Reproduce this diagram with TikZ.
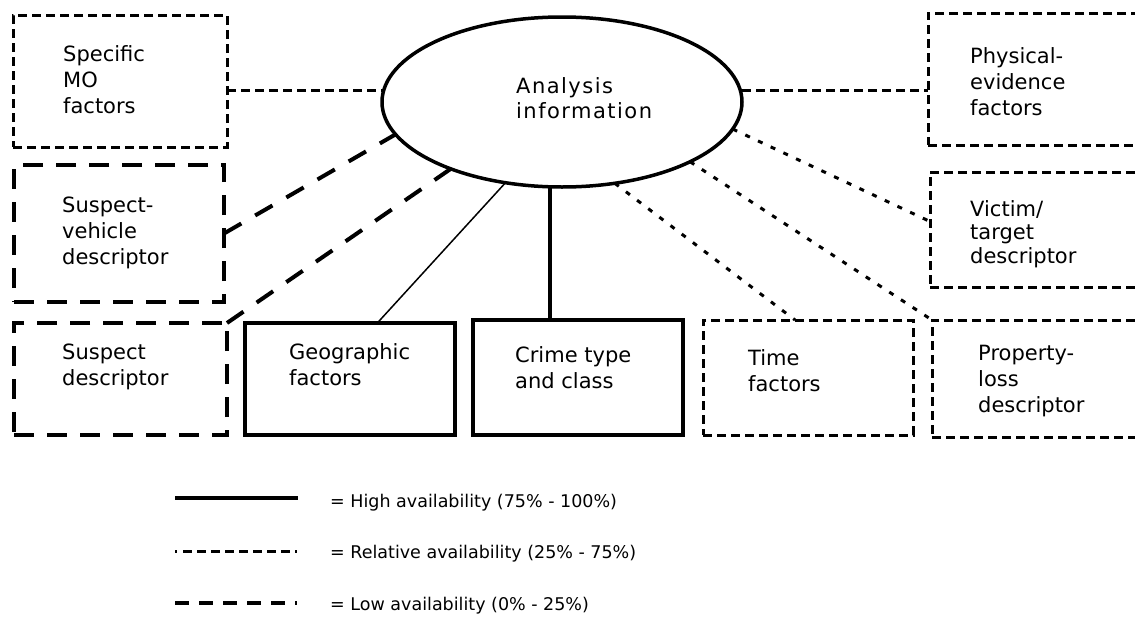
\documentclass[tikz,border=0pt]{standalone}
\usepackage{fontspec}
\setmainfont{DejaVu Sans}
\newfontfamily\ellfont[LetterSpace=7]{DejaVu Sans}
\usetikzlibrary{shapes.geometric}
\newcommand{\tstr}{\rule{0pt}{17pt}}
\begin{document}
\begin{tikzpicture}[x=1pt,y=-1pt,
  boxpos/.style={anchor=north west, inner sep=0pt, outer sep=0pt},
  relbox/.style={boxpos, draw, line width=3pt, dash pattern=on 9pt off 5pt},
  lowbox/.style={boxpos, draw, line width=4pt, dash pattern=on 20pt off 13pt},
  highbox/.style={boxpos, draw, line width=4pt},
  relline/.style={line width=3pt, dash pattern=on 9pt off 5pt},
  reldiag/.style={line width=3pt, dash pattern=on 5pt off 9pt},
  lowline/.style={line width=4pt, dash pattern=on 20pt off 16pt},
  highline/.style={line width=3.5pt},
  thinline/.style={line width=1.5pt},
  lbl/.style={anchor=north west, inner sep=0pt, align=left, font=\fontsize{21}{26}\selectfont},
  leg/.style={anchor=base west, inner sep=0pt, font=\fontsize{17.5}{21}\selectfont}]
\useasboundingbox (0,0) rectangle (1135,624);
\clip (0,0) rectangle (1135,624);

% boxes
\node[relbox, minimum width=214pt, minimum height=132pt] (mo) at (13,15) {};
\node[lowbox, minimum width=210pt, minimum height=137pt] (sv) at (14,165) {};
\node[lowbox, minimum width=213pt, minimum height=112pt] (sd) at (14,323) {};
\node[highbox, minimum width=210pt, minimum height=112pt] (geo) at (245,323) {};
\node[highbox, minimum width=210pt, minimum height=115pt] (crime) at (473,320) {};
\node[relbox, minimum width=210pt, minimum height=115pt] (time) at (703,320) {};
\node[relbox, minimum width=222pt, minimum height=132pt] (phys) at (928,13) {};
\node[relbox, minimum width=220pt, minimum height=115pt] (vic) at (930,172) {};
\node[relbox, minimum width=218pt, minimum height=117pt] (prop) at (932,320) {};

% ellipse
\node[draw, ellipse, line width=3.5pt, minimum width=360pt, minimum height=170pt,
      inner sep=0pt, outer sep=0pt] (ell) at (562,102) {};
\node[anchor=north west, inner sep=0pt, align=left,
      font=\ellfont\fontsize{21}{25}\selectfont] (ellt) at (516,76)
      {\tstr Analysis\\information};

% texts
\node[lbl] (mot) at (63,44) {\tstr Specific\\MO\\factors};
\node[lbl] (svt) at (62,195) {\tstr Suspect-\\vehicle\\descriptor};
\node[lbl] (sdt) at (62,342) {\tstr Suspect\\descriptor};
\node[lbl] (geot) at (289,342) {\tstr Geographic\\factors};
\node[lbl] (crimet) at (515,345) {\tstr Crime type\\and class};
\node[lbl] (timet) at (748,348) {\tstr Time\\factors};
\node[lbl] (physt) at (970,46) {\tstr Physical-\\evidence\\factors};
\node[lbl, font=\fontsize{21}{23.5}\selectfont] (vict) at (970,199) {\tstr Victim/\\target\\descriptor};
\node[lbl] (propt) at (978,343) {\tstr Property-\\loss\\descriptor};

% connectors
\draw[relline] ([yshift=-9pt]mo.east) -- ([yshift=-9pt]mo.east -| ell.west);
\draw[relline] ([yshift=-11pt]phys.west -| ell.east) -- ([yshift=-11pt]phys.west);
\draw[lowline] (sv.east) -- (ell.191);
\draw[lowline] (sd.north east) -- (ell.211);
\draw[thinline] (geo.64) -- (ell.235);
\draw[highline] (ell.262) -- (ell.262 |- crime.north);
\draw[reldiag] (ell.303) -- ([xshift=-13pt]time.north);
\draw[reldiag] (ell.335) -- (prop.north west);
\draw[reldiag] (ell.351) -- ([yshift=8pt]vic.west);

% legend
\coordinate (l1a) at (175,498); \coordinate (l1b) at (298,498);
\coordinate (l2a) at (175,551); \coordinate (l2b) at (297,551);
\coordinate (l3a) at (175,603); \coordinate (l3b) at (297,603);
\draw[line width=4pt] (l1a) -- (l1b);
\draw[line width=3pt, dash pattern=on 2pt off 6pt on 9pt off 5pt on 9pt off 5pt on 9pt off 5pt on 9pt off 5pt on 9pt off 5pt on 9pt off 5pt on 9pt off 5pt on 9pt off 5pt] (l2a) -- (l2b);
\draw[line width=4pt, dash pattern=on 14pt off 10pt] (l3a) -- (l3b);
\node[leg] (lt1) at (330,507) {= High availability (75\% - 100\%)};
\node[leg] (lt2) at (330,558) {= Relative availability (25\% - 75\%)};
\node[leg] (lt3) at (330,610) {= Low availability (0\% - 25\%)};
\end{tikzpicture}
\end{document}
